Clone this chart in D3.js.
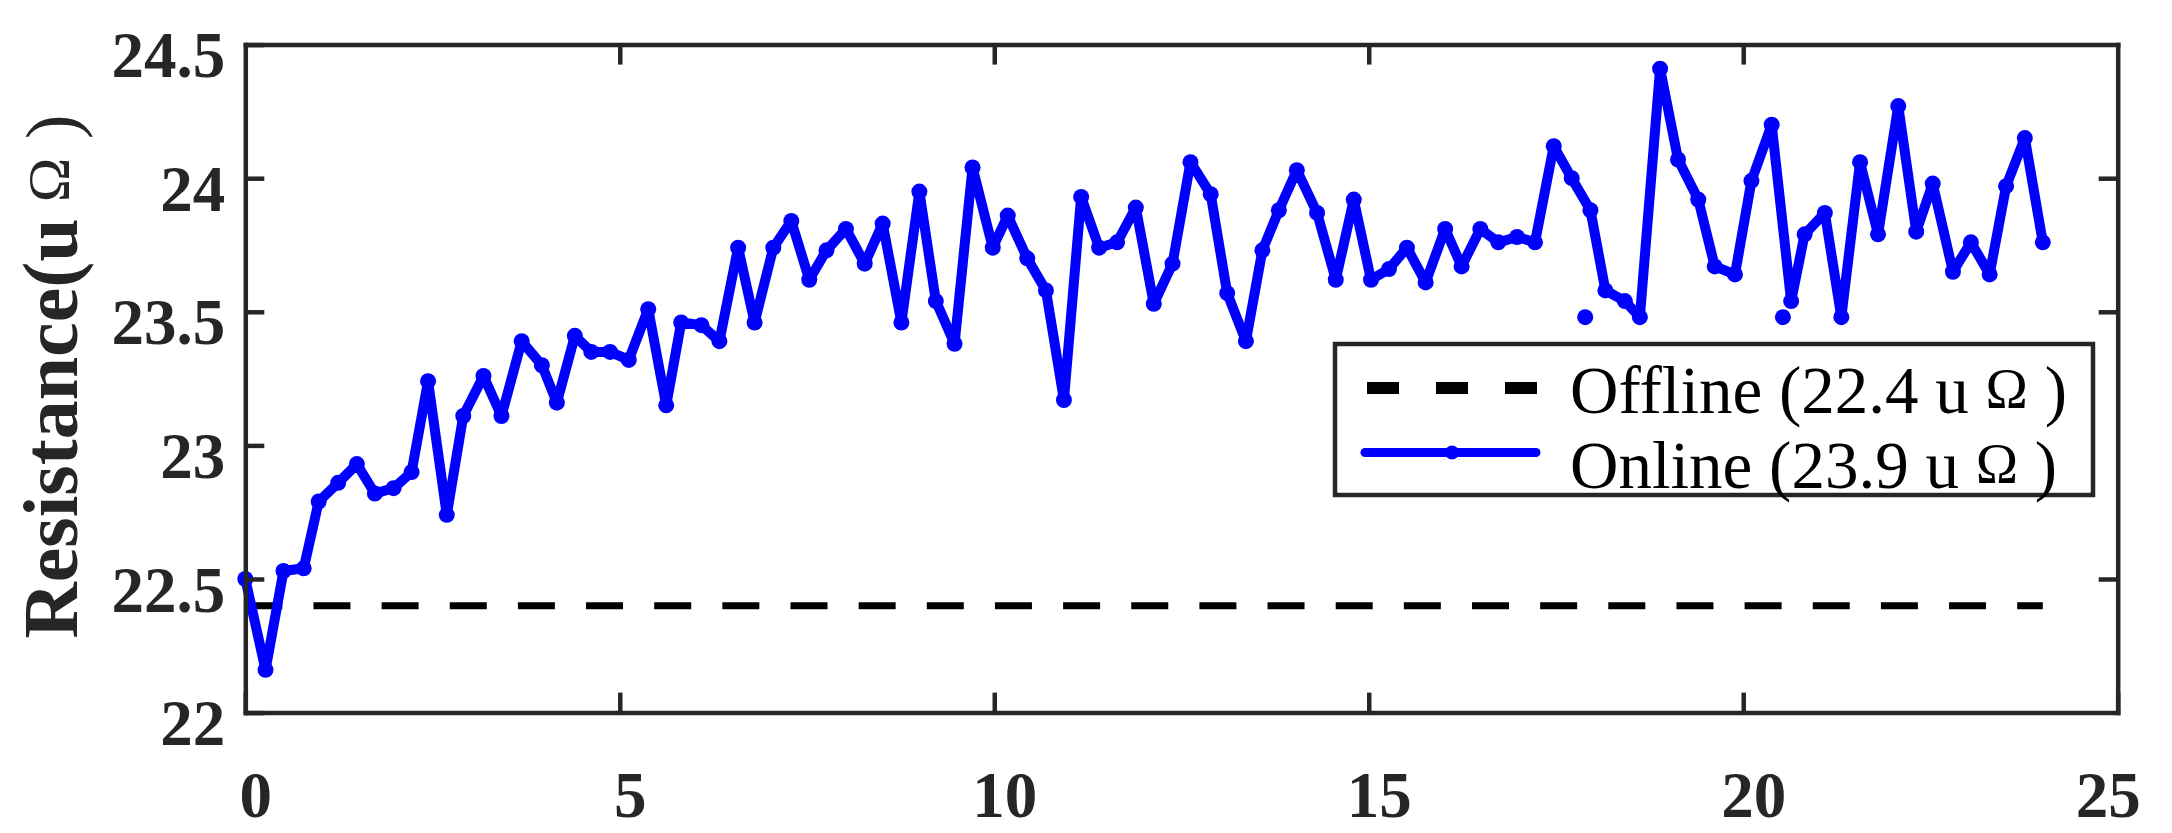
<!DOCTYPE html>
<html><head><meta charset="utf-8">
<script src="https://cdn.jsdelivr.net/npm/d3@7"></script>
<style>html,body{margin:0;padding:0;background:#fff;} svg{display:block;}</style>
</head><body>
<svg id="chart" width="2172" height="833"></svg>
<script>
// ---------------- data ----------------
const time = [0.00,0.27,0.51,0.78,0.98,1.24,1.49,1.73,1.98,2.22,
  2.44,2.69,2.91,3.18,3.42,3.69,3.96,4.16,4.40,4.62,
  4.87,5.12,5.38,5.62,5.82,6.09,6.33,6.58,6.80,7.05,
  7.29,7.53,7.76,8.02,8.27,8.51,8.76,9.00,9.22,9.47,
  9.71,9.98,10.18,10.44,10.69,10.93,11.16,11.40,11.64,11.89,
  12.13,12.38,12.62,12.89,13.11,13.36,13.58,13.80,14.04,14.31,
  14.56,14.80,15.03,15.27,15.51,15.76,16.02,16.24,16.49,16.73,
  16.98,17.22,17.47,17.71,17.96,18.16,18.42,18.62,18.89,19.13,
  19.40,19.62,19.89,20.11,20.38,20.64,20.82,21.09,21.31,21.56,
  21.80,22.07,22.31,22.53,22.80,23.04,23.29,23.51,23.76,24.00];
const resistance = [22.50,22.16,22.53,22.54,22.79,22.86,22.93,22.82,22.84,22.90,
  23.24,22.74,23.11,23.26,23.11,23.39,23.30,23.16,23.41,23.35,
  23.35,23.32,23.51,23.15,23.46,23.45,23.39,23.74,23.46,23.74,
  23.84,23.62,23.73,23.81,23.68,23.83,23.46,23.95,23.54,23.38,
  24.04,23.74,23.86,23.70,23.58,23.17,23.93,23.74,23.76,23.89,
  23.53,23.68,24.06,23.94,23.57,23.39,23.73,23.88,24.03,23.87,
  23.62,23.92,23.62,23.66,23.74,23.61,23.81,23.67,23.81,23.76,
  23.78,23.76,24.12,24.00,23.88,23.58,23.54,23.48,24.41,24.07,
  23.92,23.67,23.64,23.99,24.20,23.54,23.79,23.87,23.48,24.06,
  23.79,24.27,23.80,23.98,23.65,23.76,23.64,23.97,24.15,23.76];
const strayTime = [17.89, 20.53];
const strayResistance = [23.48, 23.48];
const offlineValue = 22.4;
const offlineSpan = [0, 24];
const xTicks = [0, 5, 10, 15, 20, 25];
const xTickLabels = ["0", "5", "10", "15", "20", "25"];
const yTicks = [22, 22.5, 23, 23.5, 24, 24.5];
const yTickLabels = ["22", "22.5", "23", "23.5", "24", "24.5"];
const yLabelMain = "Resistance(u";
const unitSymbol = "\u03A9";
const legendNames = ["Offline (22.4 u", "Online (23.9 u"];

// ---------------- layout ----------------
const W = 2172, H = 833;
const M = {left: 245.3, right: 2117.7, top: 44.6, bottom: 712.6};
const AX = "#262626";
const BLUE = "#0000FF";
const SERIF = "'Liberation Serif', 'Times New Roman', serif";

const x = d3.scaleLinear().domain([0, 25]).range([M.left, M.right]);
const y = d3.scaleLinear().domain([22, 24.5]).range([M.bottom, M.top]);

const svg = d3.select("#chart");
svg.append("rect").attr("width", W).attr("height", H).attr("fill", "#fff");

// offline dashed reference
svg.append("line")
  .attr("x1", x(offlineSpan[0])).attr("x2", x(offlineSpan[1]))
  .attr("y1", y(offlineValue)).attr("y2", y(offlineValue))
  .attr("stroke", "#000").attr("stroke-width", 7)
  .attr("stroke-dasharray", "37,31.15");

// online series
const idx = d3.range(time.length);
svg.append("path")
  .datum(idx)
  .attr("fill", "none").attr("stroke", BLUE).attr("stroke-width", 10)
  .attr("stroke-linejoin", "round").attr("stroke-linecap", "round")
  .attr("d", d3.line().x(i => x(time[i])).y(i => y(resistance[i])));
svg.append("g").selectAll("circle").data(idx).join("circle")
  .attr("cx", i => x(time[i])).attr("cy", i => y(resistance[i]))
  .attr("r", 8).attr("fill", BLUE);
svg.append("g").selectAll("circle").data(d3.range(strayTime.length)).join("circle")
  .attr("cx", i => x(strayTime[i])).attr("cy", i => y(strayResistance[i]))
  .attr("r", 8).attr("fill", BLUE);

// ---------------- axes ----------------
function styleAxis(g) {
  g.attr("font-family", SERIF).attr("font-size", 65).attr("font-weight", "bold");
  g.select(".domain").attr("stroke", AX).attr("stroke-width", 4.5).attr("stroke-linecap", "square");
  g.selectAll(".tick line").attr("stroke", AX).attr("stroke-width", 4.5);
  g.selectAll(".tick text").attr("fill", AX);
}
const gB = svg.append("g").attr("transform", `translate(0,${M.bottom})`)
  .call(d3.axisBottom(x).tickValues(xTicks).tickFormat((d, i) => xTickLabels[i])
    .tickSizeInner(-20).tickSizeOuter(0).tickPadding(0));
styleAxis(gB);
gB.selectAll(".tick text").attr("dy", null).attr("y", 104)
  .attr("dx", (d, i) => i === xTicks.length - 1 ? -10 : 10);

const gT = svg.append("g").attr("transform", `translate(0,${M.top})`)
  .call(d3.axisTop(x).tickValues(xTicks.slice(1, -1)).tickFormat("")
    .tickSizeInner(-20).tickSizeOuter(0));
styleAxis(gT);

const gL = svg.append("g").attr("transform", `translate(${M.left},0)`)
  .call(d3.axisLeft(y).tickValues(yTicks).tickFormat((d, i) => yTickLabels[i])
    .tickSizeInner(-19).tickSizeOuter(0).tickPadding(20));
styleAxis(gL);
gL.selectAll(".tick text").attr("dy", null).attr("y", 32);

const gR = svg.append("g").attr("transform", `translate(${M.right},0)`)
  .call(d3.axisRight(y).tickValues([22.5, 23.5, 24]).tickFormat("")
    .tickSizeInner(-19).tickSizeOuter(0));
styleAxis(gR);

// y label
const yl = svg.append("text")
  .attr("transform", `translate(77,${(M.top + M.bottom) / 2 - 2}) rotate(-90)`)
  .attr("text-anchor", "middle").attr("font-family", SERIF).attr("fill", AX)
  .style("white-space", "pre");
yl.append("tspan").attr("font-size", 78).attr("font-weight", "bold").text(yLabelMain);
yl.append("tspan").attr("font-size", 64).text(" ");
yl.append("tspan").attr("font-size", 60).attr("dy", -8).text(unitSymbol);
yl.append("tspan").attr("font-size", 74).attr("dy", 8).text(" )");

// ---------------- legend ----------------
const lg = svg.append("g");
lg.append("rect").attr("x", 1335).attr("y", 344).attr("width", 758).attr("height", 151)
  .attr("fill", "#fff").attr("stroke", AX).attr("stroke-width", 4.5);
lg.append("line").attr("x1", 1367).attr("x2", 1537).attr("y1", 388).attr("y2", 388)
  .attr("stroke", "#000").attr("stroke-width", 12).attr("stroke-dasharray", "32,37");
lg.append("line").attr("x1", 1365).attr("x2", 1536).attr("y1", 452.5).attr("y2", 452.5)
  .attr("stroke", BLUE).attr("stroke-width", 9).attr("stroke-linecap", "round");
lg.append("circle").attr("cx", 1452).attr("cy", 452.5).attr("r", 7).attr("fill", BLUE);
const baselines = [413, 488];
legendNames.forEach((name, i) => {
  const t = lg.append("text").attr("x", 1570).attr("y", baselines[i])
    .attr("font-family", SERIF).attr("font-size", 67).attr("fill", "#000")
    .style("white-space", "pre");
  t.append("tspan").text(name + " ");
  t.append("tspan").attr("font-size", 57).attr("dy", -5).text(unitSymbol);
  t.append("tspan").attr("dy", 5).text(" )");
});
</script>
</body></html>
